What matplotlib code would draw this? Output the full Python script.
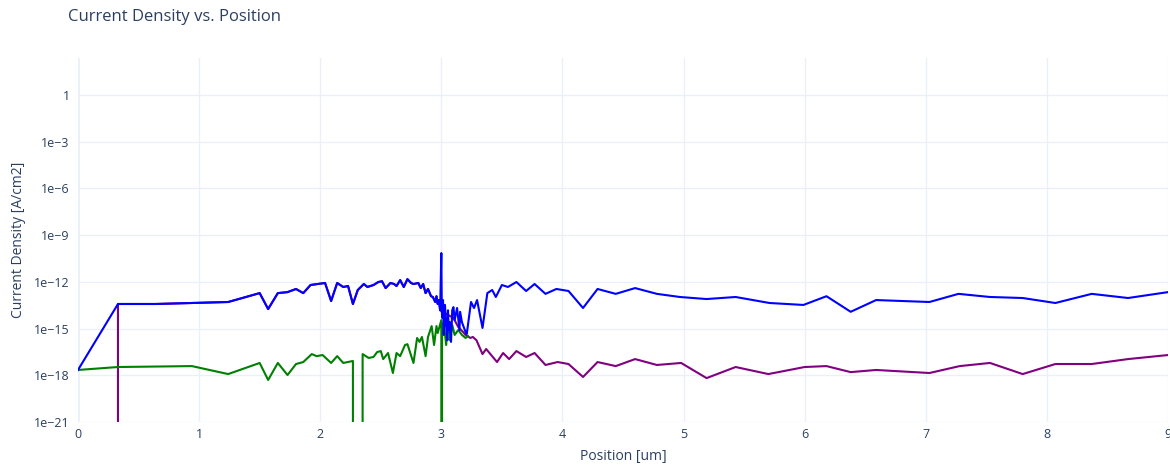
import numpy as np
import matplotlib
matplotlib.use("Agg")
import matplotlib.pyplot as plt
from matplotlib.ticker import FixedLocator, FixedFormatter

plt.rcParams['font.family'] = ['Open Sans', 'DejaVu Sans']

# total current density (blue)
total_x = [0, 0.33, 0.64, 1.24, 1.50, 1.57, 1.65, 1.73, 1.80, 1.86, 1.92, 2.04, 2.09, 2.14,
           2.19, 2.23, 2.27, 2.31, 2.36, 2.39, 2.44, 2.48, 2.51, 2.54, 2.58, 2.61, 2.63, 2.66,
           2.69, 2.72, 2.75, 2.77, 2.81, 2.83, 2.85, 2.87, 2.89, 2.915, 2.93, 2.95, 2.96, 2.97,
           2.98, 2.99, 3.00, 3.004, 3.008, 3.014, 3.02, 3.03, 3.04, 3.05, 3.055, 3.06, 3.07,
           3.08, 3.09, 3.10, 3.11, 3.13, 3.15, 3.155, 3.17, 3.20, 3.21, 3.245, 3.27, 3.295,
           3.34, 3.38, 3.42, 3.45, 3.50, 3.55, 3.62, 3.70, 3.77, 3.86, 3.95, 4.05, 4.17, 4.29,
           4.44, 4.60, 4.78, 4.97, 5.19, 5.43, 5.71, 5.99, 6.18, 6.38, 6.59, 7.03, 7.27, 7.53,
           7.80, 8.07, 8.37, 8.67, 9.00]
total_j = [2.2e-18, 3.8e-14, 3.8e-14, 5.1e-14, 1.9e-13, 1.8e-14, 1.9e-13, 2.2e-13, 3.5e-13,
           1.9e-13, 6.3e-13, 8.5e-13, 5.9e-14, 8.5e-13, 4.7e-13, 5.4e-13, 3.8e-14, 3.0e-13,
           7.3e-13, 4.7e-13, 6.3e-13, 9.8e-13, 1.1e-12, 4.0e-13, 8.5e-13, 7.3e-13, 5.4e-13,
           1.3e-12, 4.7e-13, 1.5e-12, 8.5e-13, 7.3e-13, 8.5e-13, 4.0e-13, 7.3e-13, 1.9e-13,
           3.5e-13, 1.2e-13, 1.07e-13, 5.1e-14, 1.2e-13, 3.8e-14, 6.8e-14, 1.5e-14, 7.1e-11,
           1.2e-14, 4.8e-15, 6.8e-14, 3.9e-16, 3.3e-14, 1.7e-15, 1.8e-16, 1.5e-14, 8.1e-16,
           2.6e-15, 1.4e-16, 1.5e-14, 2.4e-14, 3.5e-15, 2.1e-14, 8.1e-16, 1.2e-14, 2.6e-15,
           6.0e-16, 4.5e-16, 5.1e-14, 2.1e-14, 6.8e-14, 1.1e-15, 1.9e-13, 3.0e-13, 1.07e-13,
           6.3e-13, 4.7e-13, 9.8e-13, 2.6e-13, 7.3e-13, 1.7e-13, 3.5e-13, 2.6e-13, 2.1e-14,
           3.5e-13, 1.7e-13, 4.0e-13, 1.7e-13, 1.07e-13, 7.9e-14, 1.07e-13, 4.4e-14, 3.3e-14,
           1.2e-13, 1.2e-14, 6.8e-14, 5.1e-14, 1.7e-13, 1.07e-13, 9.2e-14, 4.4e-14, 1.7e-13,
           9.2e-14, 2.2e-13]

# electron current density (green), 1e-30 = zero / below axis
elec_x = [0, 0.33, 0.94, 1.24, 1.50, 1.57, 1.65, 1.73, 1.80, 1.86, 1.93, 1.97, 2.02, 2.09,
          2.14, 2.19, 2.27, 2.27, 2.35, 2.35, 2.40, 2.44, 2.47, 2.50, 2.52, 2.56, 2.60, 2.63,
          2.66, 2.70, 2.72, 2.77, 2.80, 2.82, 2.84, 2.87, 2.89, 2.92, 2.94, 2.96, 2.97, 3.00,
          3.00, 3.006, 3.006, 3.02, 3.04, 3.055, 3.07, 3.09, 3.11, 3.14, 3.17, 3.20, 3.22]
elec_j = [2.2e-18, 3.4e-18, 3.9e-18, 1.2e-18, 6.2e-18, 5.0e-19, 6.2e-18, 1.04e-18, 5.3e-18,
          7.1e-18, 2.3e-17, 1.7e-17, 2.0e-17, 6.2e-18, 1.7e-17, 6.2e-18, 8.3e-18, 1e-30,
          1e-30, 2.3e-17, 1.3e-17, 1.5e-17, 3.1e-17, 3.6e-17, 1.1e-17, 2.7e-17, 1.4e-18,
          2.7e-17, 1.7e-17, 8.8e-17, 1.0e-16, 6.2e-18, 2.5e-16, 1.4e-16, 2.9e-16, 1.7e-17,
          2.9e-16, 1.45e-15, 8.8e-17, 1.45e-15, 5.2e-16, 3.5e-15, 1e-30, 1e-30, 8.1e-16,
          2.6e-15, 8.8e-17, 4.8e-15, 1.8e-16, 1.7e-15, 3.9e-16, 8.1e-16, 3.9e-16, 2.5e-16,
          3.3e-16]

# hole current density (purple): zero until 0.33, equal to total up to ~3, then its own tail
hole_tail_x = [3.10, 3.14, 3.18, 3.20, 3.24, 3.26, 3.29, 3.34, 3.37, 3.46, 3.51, 3.56, 3.62,
               3.70, 3.77, 3.86, 3.96, 4.05, 4.17, 4.29, 4.44, 4.60, 4.78, 4.98, 5.19, 5.43,
               5.70, 6.00, 6.18, 6.38, 6.59, 7.03, 7.28, 7.53, 7.80, 8.07, 8.37, 8.67, 9.00]
hole_tail_j = [4.8e-15, 1.26e-15, 6.0e-16, 3.9e-16, 2.5e-16, 2.9e-16, 1.8e-16, 2.3e-17,
               4.9e-17, 7.1e-18, 2.7e-17, 1.1e-17, 3.6e-17, 1.5e-17, 2.7e-17, 4.6e-18,
               7.1e-18, 5.3e-18, 7.8e-19, 7.1e-18, 3.9e-18, 1.1e-17, 4.6e-18, 6.2e-18,
               6.6e-19, 3.4e-18, 1.2e-18, 3.4e-18, 3.9e-18, 1.6e-18, 2.2e-18, 1.4e-18,
               3.9e-18, 6.2e-18, 1.2e-18, 5.3e-18, 5.3e-18, 1.1e-17, 2.0e-17]
n_shared = total_x.index(2.99) + 1
hole_x = [0.33] + total_x[1:n_shared] + hole_tail_x
hole_j = [1e-30] + total_j[1:n_shared] + hole_tail_j

x_ticks = [0, 1, 2, 3, 4, 5, 6, 7, 8, 9]
y_ticks = [1, 1e-3, 1e-6, 1e-9, 1e-12, 1e-15, 1e-18, 1e-21]
y_labels = ["1", "1e\u22123", "1e\u22126", "1e\u22129", "1e\u221212", "1e\u221215",
            "1e\u221218", "1e\u221221"]

txt = "#2a3f5f"
grid = "#EBF0F8"

fig = plt.figure(figsize=(11.7, 4.68), dpi=100)
ax = fig.add_axes([78 / 1170, 1 - 422 / 468, 1090 / 1170, 364 / 468])

ax.plot(hole_x, hole_j, color="purple", lw=1.5, zorder=3)
ax.plot(elec_x, elec_j, color="green", lw=1.5, zorder=4)
ax.plot(total_x, total_j, color="blue", lw=1.5, zorder=5)

ax.set_yscale("log")
ax.set_xlim(0, 9)
ax.set_ylim(1e-21, 10 ** 2.38)
ax.yaxis.set_major_locator(FixedLocator(y_ticks))
ax.yaxis.set_major_formatter(FixedFormatter(y_labels))
ax.yaxis.set_minor_locator(FixedLocator([]))
ax.set_xticks(x_ticks)
ax.set_xticklabels([str(t) for t in x_ticks])

for s in ax.spines.values():
    s.set_visible(False)
ax.grid(True, color=grid, lw=1, zorder=0)
ax.axvline(0, color=grid, lw=2, zorder=1)
ax.tick_params(length=0, colors=txt, labelsize=9)
ax.tick_params(axis="y", pad=6)
ax.tick_params(axis="x", pad=4)

ax.set_xlabel("Position [um]", color=txt, fontsize=10, labelpad=6)
ax.set_ylabel("Current Density [A/cm2]", color=txt, fontsize=10, labelpad=6)
fig.text(68 / 1170, 1 - 17 / 468, "Current Density vs. Position", color=txt, fontsize=12,
         va="center", ha="left")

fig.savefig("out.png", dpi=100)
